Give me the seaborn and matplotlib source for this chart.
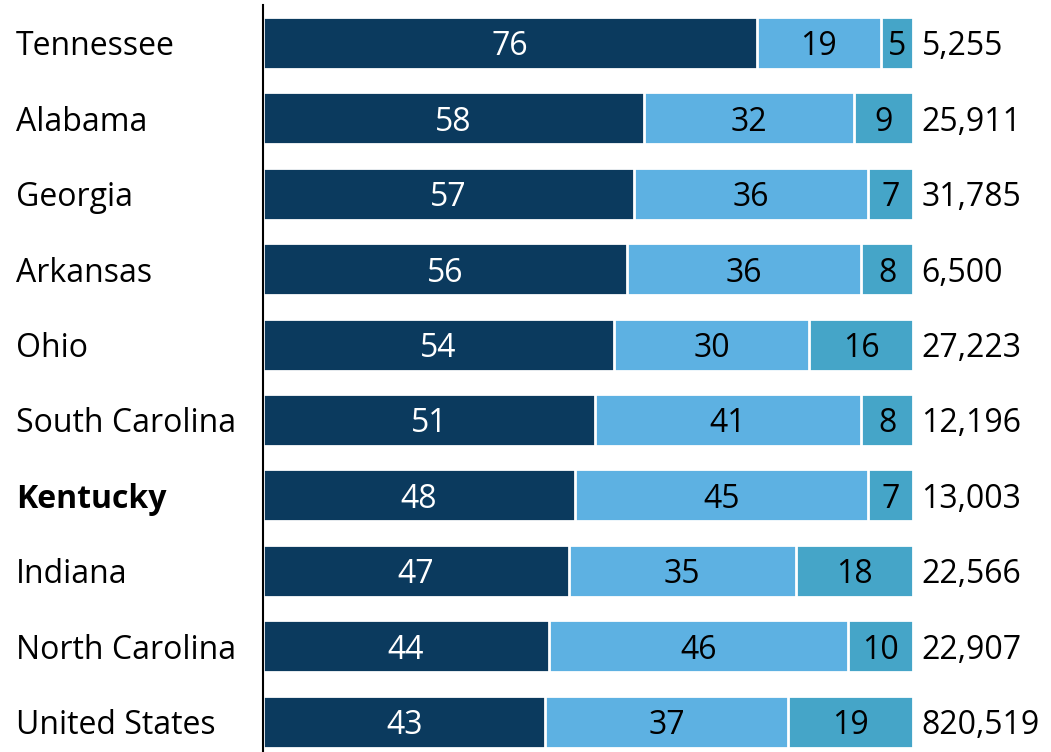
import matplotlib
matplotlib.use("Agg")
import matplotlib.pyplot as plt
import seaborn as sns
import pandas as pd
import numpy as np

states = ["Tennessee", "Alabama", "Georgia", "Arkansas", "Ohio", "South Carolina",
          "Kentucky", "Indiana", "North Carolina", "United States"]
dark_vals = [76, 58, 57, 56, 54, 51, 48, 47, 44, 43]
light_vals = [19, 32, 36, 36, 30, 41, 45, 35, 46, 37]
teal_vals = [5, 9, 7, 8, 16, 8, 7, 18, 10, 19]
totals = ["5,255", "25,911", "31,785", "6,500", "27,223", "12,196", "13,003",
          "22,566", "22,907", "820,519"]

c_dark = "#0B3A5E"
c_light = "#5DB1E2"
c_teal = "#45A5C8"

sns.set_theme(style="white")
plt.rcParams["font.family"] = ["Open Sans", "DejaVu Sans"]

df = pd.DataFrame({"state": states, "dark": dark_vals, "light": light_vals, "teal": teal_vals})
s = df["dark"] + df["light"] + df["teal"]
df["c1"] = df["dark"] / s * 100
df["c2"] = (df["dark"] + df["light"]) / s * 100
df["c3"] = 100.0

fig = plt.figure(figsize=(10.51, 7.52), dpi=100)
ax = fig.add_axes([263 / 1051, 0, 650 / 1051, 747 / 752])

bw = 0.69
sns.barplot(data=df, y="state", x="c3", color=c_teal, orient="h", width=bw, ax=ax,
            edgecolor="white", linewidth=2, saturation=1)
sns.barplot(data=df, y="state", x="c2", color=c_light, orient="h", width=bw, ax=ax,
            edgecolor="white", linewidth=2, saturation=1)
sns.barplot(data=df, y="state", x="c1", color=c_dark, orient="h", width=bw, ax=ax,
            edgecolor="white", linewidth=2, saturation=1)

fs = 23
va = "center_baseline"
for i in range(len(states)):
    c1, c2 = df["c1"][i], df["c2"][i]
    ax.text(c1 / 2, i, str(dark_vals[i]), ha="center", va=va, color="white", fontsize=fs)
    ax.text((c1 + c2) / 2, i, str(light_vals[i]), ha="center", va=va, color="black", fontsize=fs)
    ax.text((c2 + 100) / 2, i, str(teal_vals[i]), ha="center", va=va, color="black", fontsize=fs)
    ax.text(101.3, i, totals[i], ha="left", va=va, color="black", fontsize=fs)

ax.set_xlim(0, 100)
ax.set_ylim(9.4, -0.5)
ax.set_xlabel("")
ax.set_ylabel("")
ax.set_xticks([])
ax.set_yticks(range(len(states)))
ax.set_yticklabels(states, ha="left", va=va, fontsize=fs)
ax.tick_params(axis="y", length=0, pad=247 / (100 / 72))
for lab in ax.get_yticklabels():
    lab.set_color("black")
    if lab.get_text() == "Kentucky":
        lab.set_fontweight("bold")
for sp in ["top", "right", "bottom"]:
    ax.spines[sp].set_visible(False)
ax.spines["left"].set_color("black")
ax.spines["left"].set_linewidth(1.5)
ax.spines["left"].set_zorder(5)

fig.savefig("out.png", dpi=100)
